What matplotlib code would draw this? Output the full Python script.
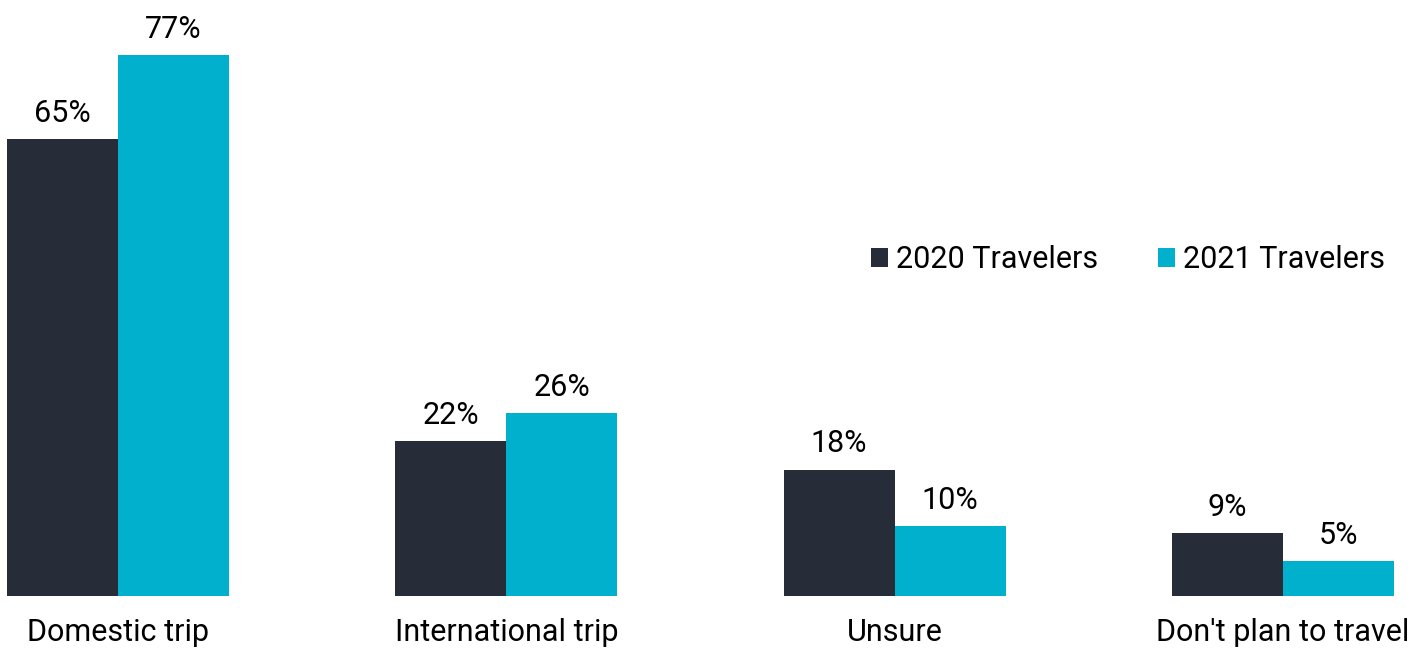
import matplotlib.pyplot as plt
import numpy as np

plt.rcParams['font.family'] = ['Roboto', 'DejaVu Sans']

categories = ['Domestic trip', 'International trip', 'Unsure', "Don't plan to travel"]
travelers_2020 = [65, 22, 18, 9]
travelers_2021 = [77, 26, 10, 5]
series_names = ['2020 Travelers', '2021 Travelers']
colors = ['#272d38', '#00b0cc']

x = np.arange(len(categories))
width = 0.286

fig = plt.figure(figsize=(14.16, 6.48), dpi=100)
ax = fig.add_axes([0, 52 / 648, 1, 596 / 648])

b1 = ax.bar(x - width / 2, travelers_2020, width, color=colors[0], label=series_names[0])
b2 = ax.bar(x + width / 2, travelers_2021, width, color=colors[1], label=series_names[1])

for bars in (b1, b2):
    ax.bar_label(bars, labels=[f'{v}%' for v in bars.datavalues],
                 padding=8, fontsize=22, color='black')

ax.set_xlim(-0.304, 3.3425)
ax.set_ylim(0, 84.83)
ax.set_xticks(x)
ax.set_xticklabels(categories, fontsize=22)
ax.tick_params(axis='x', length=0, pad=16)
ax.set_yticks([])
for s in ax.spines.values():
    s.set_visible(False)

ax.legend(loc='center', bbox_to_anchor=(1128 / 1416, (596 - 260) / 596),
          ncol=2, frameon=False, fontsize=22, handlelength=0.56, handleheight=0.56,
          handletextpad=0.26, columnspacing=1.95)

fig.savefig('out.png', dpi=100)
